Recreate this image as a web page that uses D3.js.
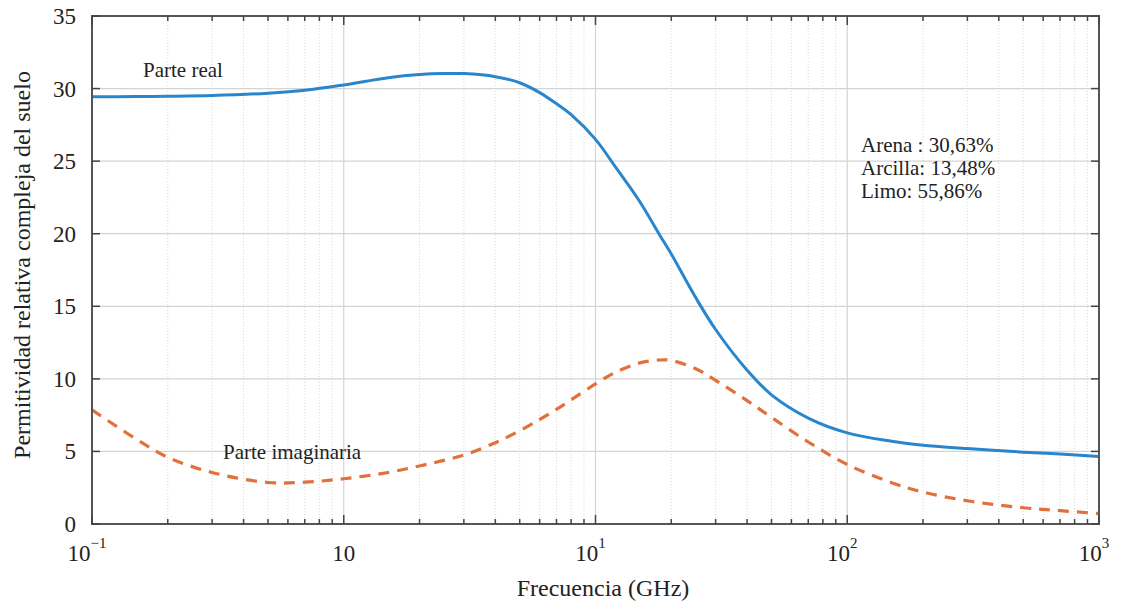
<!DOCTYPE html>
<html><head><meta charset="utf-8">
<script src="https://cdn.jsdelivr.net/npm/d3@7"></script>
<style>body{margin:0;background:#fff}svg{display:block}text{font-family:"Liberation Serif","Times New Roman",serif;fill:#222}</style>
</head><body><svg id="c" width="1127" height="610"></svg>
<script>
const freq = [0.1,0.15,0.2,0.3,0.5,0.7,1,1.5,2,2.5,3,4,5,6,7,8,10,12,15,18,20,25,30,40,50,70,100,150,200,300,500,700,1000];
const realPart = [29.43,29.45,29.47,29.52,29.68,29.88,30.25,30.75,30.97,31.04,31.03,30.82,30.4,29.72,28.95,28.2,26.5,24.6,22.2,19.9,18.6,15.6,13.4,10.6,8.9,7.3,6.28,5.7,5.42,5.2,4.95,4.82,4.65];
const imagPart = [7.86,5.85,4.6,3.55,2.86,2.88,3.12,3.55,4.0,4.38,4.75,5.6,6.42,7.2,7.9,8.55,9.65,10.45,11.1,11.3,11.27,10.7,9.9,8.5,7.35,5.65,4.1,2.85,2.2,1.6,1.12,0.92,0.72];
const xTickValues = [0.1,1,10,100,1000];
const xTickBase = ["10","10","10","10","10"];
const xTickExp = ["\u22121","","1","2","3"];
const yTickValues = [0,5,10,15,20,25,30,35];
const labels = {x:"Frecuencia (GHz)", y:"Permitividad relativa compleja del suelo", real:"Parte real", imag:"Parte imaginaria"};
const composition = ["Arena : 30,63%","Arcilla: 13,48%","Limo: 55,86%"];

const svg = d3.select("#c");
const L=92,R=1099,T=16,B=524;
const x = d3.scaleLog().domain([0.1,1000]).range([L,R]);
const y = d3.scaleLinear().domain([0,35]).range([B,T]);

const minor=[];
for(let d=-1;d<3;d++){for(let k=2;k<=9;k++)minor.push(k*Math.pow(10,d));}

const g=svg.append("g");
g.selectAll(".mg").data(minor).join("line")
 .attr("x1",d=>x(d)).attr("x2",d=>x(d)).attr("y1",T).attr("y2",B)
 .attr("stroke","#d8d8d8").attr("stroke-width",1).attr("stroke-dasharray","1,2");
g.selectAll(".vg").data(xTickValues).join("line")
 .attr("x1",d=>x(d)).attr("x2",d=>x(d)).attr("y1",T).attr("y2",B)
 .attr("stroke","#d4d4d4").attr("stroke-width",1.2);
g.selectAll(".hg").data(yTickValues).join("line")
 .attr("x1",L).attr("x2",R).attr("y1",d=>y(d)).attr("y2",d=>y(d))
 .attr("stroke","#d4d4d4").attr("stroke-width",1.2);

const line = (vals)=>d3.line().x((d,i)=>x(freq[i])).y(d=>y(d)).curve(d3.curveCatmullRom.alpha(0.5))(vals);
svg.append("path").attr("d",line(imagPart)).attr("fill","none")
 .attr("stroke","#e2703a").attr("stroke-width",3.2).attr("stroke-dasharray","11,8");
svg.append("path").attr("d",line(realPart)).attr("fill","none")
 .attr("stroke","#2a86cc").attr("stroke-width",3);

svg.append("rect").attr("x",L).attr("y",T).attr("width",R-L).attr("height",B-T)
 .attr("fill","none").attr("stroke","#555").attr("stroke-width",2);

const tk=svg.append("g").attr("stroke","#444").attr("stroke-width",1.5);
tk.selectAll(".xt").data(xTickValues).join("line").attr("x1",d=>x(d)).attr("x2",d=>x(d)).attr("y1",B).attr("y2",B-9);
tk.selectAll(".xt2").data(xTickValues).join("line").attr("x1",d=>x(d)).attr("x2",d=>x(d)).attr("y1",T).attr("y2",T+9);
tk.selectAll(".xm").data(minor).join("line").attr("x1",d=>x(d)).attr("x2",d=>x(d)).attr("y1",B).attr("y2",B-5);
tk.selectAll(".xm2").data(minor).join("line").attr("x1",d=>x(d)).attr("x2",d=>x(d)).attr("y1",T).attr("y2",T+5);
tk.selectAll(".yt").data(yTickValues).join("line").attr("x1",L).attr("x2",L+8).attr("y1",d=>y(d)).attr("y2",d=>y(d));
tk.selectAll(".yt2").data(yTickValues).join("line").attr("x1",R).attr("x2",R-8).attr("y1",d=>y(d)).attr("y2",d=>y(d));

svg.selectAll(".yl").data(yTickValues).join("text")
 .attr("x",76).attr("y",d=>y(d)+8).attr("text-anchor","end").attr("font-size",23).text(d=>d);
const xl=svg.selectAll(".xl").data(xTickValues).join("text")
 .attr("x",(d,i)=>x(d)+(xTickExp[i]?-5:0)).attr("y",561).attr("text-anchor","middle").attr("font-size",23);
xl.append("tspan").text((d,i)=>xTickBase[i]);
xl.append("tspan").attr("dy",-13).attr("font-size",15).text((d,i)=>xTickExp[i]);

svg.append("text").attr("x",603).attr("y",596).attr("text-anchor","middle").attr("font-size",24).text(labels.x);
svg.append("text").attr("transform","translate(30,265) rotate(-90)").attr("text-anchor","middle").attr("font-size",24).text(labels.y);

svg.append("text").attr("x",143).attr("y",77).attr("font-size",21).text(labels.real);
svg.append("text").attr("x",223).attr("y",459).attr("font-size",21).text(labels.imag);
svg.selectAll(".cp").data(composition).join("text")
 .attr("x",861).attr("y",(d,i)=>152+i*23).attr("font-size",21).text(d=>d);
</script></body></html>
